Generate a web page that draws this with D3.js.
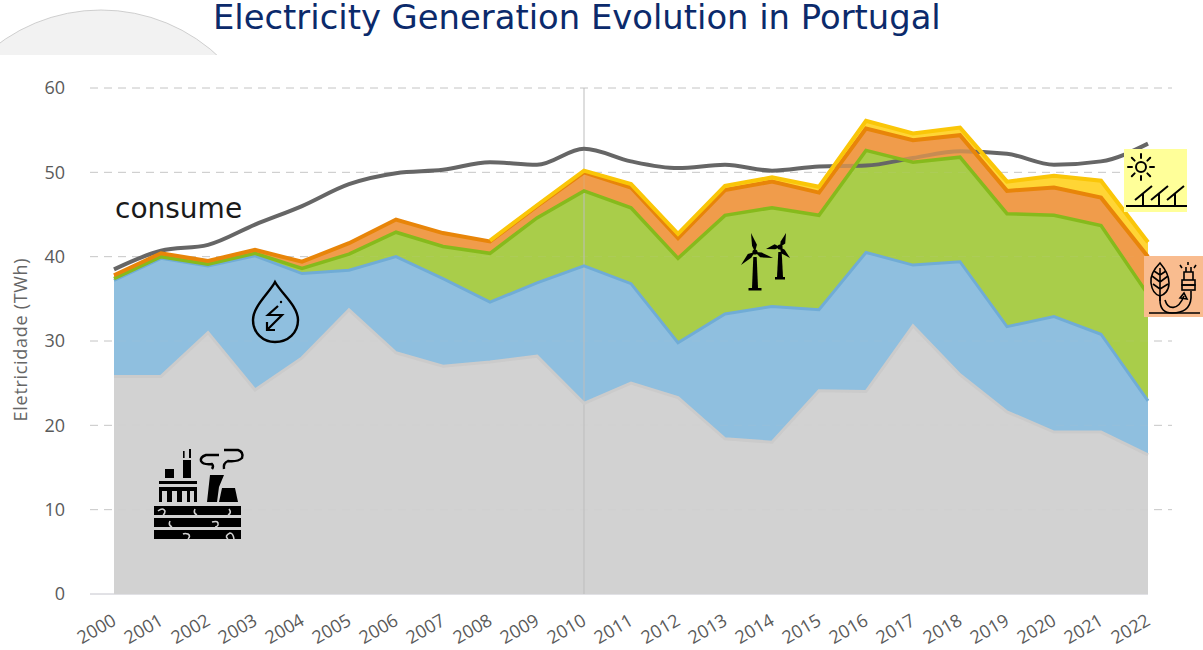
<!DOCTYPE html>
<html>
<head>
<style>
  html, body { margin: 0; padding: 0; background: #fff; }
  .tick text { font-family: "Open Sans", sans-serif; fill: #5a5a5a; }
</style>
<script src="https://d3js.org/d3.v7.min.js"></script>
</head>
<body>
<svg width="1203" height="650"></svg>
<script>
var years = [2000,2001,2002,2003,2004,2005,2006,2007,2008,2009,2010,2011,2012,2013,2014,2015,2016,2017,2018,2019,2020,2021,2022];
var yTicks = [0,10,20,30,40,50,60];

// TWh per source
var fossil = [25.8,25.8,31,24.2,28,33.7,28.6,27,27.5,28.2,22.6,25,23.3,18.4,18,24.1,24,31.8,26,21.6,19.2,19.2,16.5];
var hydro = [11.4,14,7.9,15.9,10,4.7,11.4,10.4,7.1,8.7,16.3,11.8,6.5,14.8,16.1,9.6,16.5,7.2,13.4,10.1,13.7,11.6,6.4];
var wind = [0.2,0.2,0.2,0.3,0.6,1.9,2.9,3.8,5.8,7.7,8.9,9,10,11.7,11.7,11.2,12.1,12.2,12.4,13.4,12,12.9,12.6];
var biomass = [0.4,0.4,0.4,0.4,0.8,1.3,1.5,1.6,1.4,1.4,2.2,2.4,2.4,3,3.1,2.7,2.6,2.6,2.6,2.7,3.3,3.3,4.5];
var solar = [0,0,0,0,0,0,0,0,0.1,0.1,0.2,0.4,0.5,0.5,0.5,0.7,0.9,0.8,0.9,1.1,1.4,2,1.7];
var consume = [38.5,40.7,41.4,43.8,46,48.6,49.9,50.3,51.2,50.9,52.8,51.3,50.5,50.9,50.2,50.7,50.8,51.7,52.5,52.2,50.9,51.3,53.4];

var keys = ["fossil","hydro","wind","biomass","solar"];
var fills = {fossil:"#d2d2d2", hydro:"#8fbfdf", wind:"#a9cd4a", biomass:"#f09c4c", solar:"#ffd535"};
var lines = {fossil:"#cbcbcb", hydro:"#70acd6", wind:"#86ba1c", biomass:"#e88509", solar:"#fac608"};
var widths = {fossil:3, hydro:3, wind:3.5, biomass:4, solar:4};

var svg = d3.select("svg");

var x = d3.scaleLinear().domain([2000,2022]).range([114,1148]);
var y = d3.scaleLinear().domain([0,60]).range([594,88]);

var table = years.map(function (yr, i) {
    return {year: yr, fossil: fossil[i], hydro: hydro[i], wind: wind[i], biomass: biomass[i], solar: solar[i]};
});
var stacked = d3.stack().keys(keys)(table);

// slide decoration behind the title
svg.append("clipPath").attr("id","topclip").append("rect")
    .attr("x",0).attr("y",0).attr("width",230).attr("height",55);
svg.append("circle")
    .attr("cx",101).attr("cy",182).attr("r",172)
    .attr("fill","#f2f2f2").attr("stroke","#c4c4c4").attr("stroke-width",0.8)
    .attr("clip-path","url(#topclip)");

svg.append("text")
    .attr("x",213).attr("y",29)
    .attr("font-family","'DejaVu Sans'").attr("font-size",33.8)
    .attr("fill","#0b2a6b")
    .text("Electricity Generation Evolution in Portugal");

// grid
function drawGrid(g, op) {
    g.selectAll("line").data(yTicks.filter(function (d) { return d > 0; })).enter().append("line")
        .attr("x1",90).attr("x2",1172)
        .attr("y1",function (d) { return y(d); })
        .attr("y2",function (d) { return y(d); })
        .attr("stroke","#c8c8c8").attr("stroke-dasharray","8,6")
        .attr("opacity",op);
}
drawGrid(svg.append("g"), 1);
svg.append("line").attr("x1",90).attr("x2",1148).attr("y1",y(0)).attr("y2",y(0)).attr("stroke","#c4c4cc");

var area = d3.area()
    .x(function (d) { return x(d.data.year); })
    .y0(function (d) { return y(d[0]); })
    .y1(function (d) { return y(d[1]); });
// no edge where a source has no generation yet (solar before 2008)
var topLine = d3.line()
    .defined(function (d) { return d[1] > d[0]; })
    .x(function (d) { return x(d.data.year); })
    .y(function (d) { return y(d[1]); });

svg.selectAll(".band").data(stacked).enter().append("path")
    .attr("class","band")
    .attr("d",area)
    .attr("fill",function (d) { return fills[d.key]; });

// grid shows faintly through the areas
drawGrid(svg.append("g"), 0.12);

svg.append("line").attr("x1",x(2010)).attr("x2",x(2010)).attr("y1",y(60)).attr("y2",y(0))
    .attr("stroke","#bdbdbd").attr("stroke-width",1);

var consumeLine = d3.line()
    .x(function (d, i) { return x(years[i]); })
    .y(function (d) { return y(d); })
    .curve(d3.curveMonotoneX);
svg.append("path").datum(consume)
    .attr("d",consumeLine)
    .attr("fill","none").attr("stroke","#666").attr("stroke-width",4);

// the consume line only shows faintly where it runs behind the stack top in 2016-2018
svg.append("path").datum(stacked[3])
    .attr("d",area)
    .attr("fill",fills.biomass).attr("opacity",0.7);

svg.selectAll(".edge").data(stacked).enter().append("path")
    .attr("class","edge")
    .attr("d",topLine)
    .attr("fill","none")
    .attr("stroke",function (d) { return lines[d.key]; })
    .attr("stroke-width",function (d) { return widths[d.key]; });

// axes
var yAxis = d3.axisLeft(y).tickValues(yTicks).tickSize(0).tickPadding(0);
var gy = svg.append("g").attr("transform","translate(65,0)").call(yAxis);
gy.select(".domain").remove();
gy.selectAll("text").attr("font-size",18);

var xAxis = d3.axisBottom(x).tickValues(years).tickFormat(d3.format("d")).tickSize(0);
var gx = svg.append("g").attr("transform","translate(0,620)").call(xAxis);
gx.select(".domain").remove();
gx.selectAll("text")
    .attr("font-size",18)
    .attr("text-anchor","end")
    .attr("dy",0)
    .attr("y",0)
    .attr("transform","translate(3,4) rotate(-30)");

svg.append("text")
    .attr("transform","translate(27,339.5) rotate(-90)")
    .attr("text-anchor","middle")
    .attr("font-family","'Open Sans', sans-serif").attr("font-size",18).attr("letter-spacing",0.7)
    .attr("fill","#666")
    .text("Eletricidade (TWh)");

svg.append("text")
    .attr("x",115).attr("y",218)
    .attr("font-family","'DejaVu Sans'").attr("font-size",28)
    .attr("fill","#1a1a1a")
    .text("consume");

// pictograms
var ink = "#000";

// hydro drop
var drop = svg.append("g").attr("fill","none").attr("stroke",ink).attr("stroke-width",2.4);
drop.append("path").attr("d","M275,282 C270,292 253,306 253,320 C253,333 263,342 275,342 C288,342 298,333 298,320 C298,306 281,293 275,282 Z");
drop.append("path").attr("stroke-width",2.2).attr("d","M278,306 L268,315 H282 L267,330 M267,322 V330 H275");
drop.append("circle").attr("cx",281).attr("cy",302).attr("r",1.2).attr("fill",ink).attr("stroke","none");

// fossil plant
var plant = svg.append("g").attr("fill",ink);
[[506,515],[518,527],[530,539]].forEach(function (b) {
    plant.append("rect").attr("x",154).attr("y",b[0]).attr("width",87).attr("height",b[1]-b[0]);
});
plant.append("path").attr("fill","none").attr("stroke","#d2d2d2").attr("stroke-width",1.6)
    .attr("d","M158,511 q5,-4 7,0 q0,3 -2,4 M197,515 q-4,-2 -2,-6 M228,515 q4,-2 1,-6 M172,527 q-4,-2 -2,-6 M212,522 q7,-2 6,3 q-1,2 -3,2 M188,539 q3,-3 0,-5 q-3,-1 -5,0 M228,539 q-4,-3 2,-6 q3,0 4,6");
plant.append("rect").attr("x",165).attr("y",469).attr("width",9).attr("height",9);
plant.append("rect").attr("x",183).attr("y",460).attr("width",8).attr("height",18);
plant.append("rect").attr("x",183).attr("y",451).attr("width",1.6).attr("height",7);
plant.append("rect").attr("x",189).attr("y",449).attr("width",2).attr("height",9);
plant.append("rect").attr("x",159).attr("y",481).attr("width",38).attr("height",3);
plant.append("path").attr("fill-rule","evenodd")
    .attr("d","M159,487 H197 V502 H159 Z M162,491 V502 H167 V491 Z M172,491 V502 H177 V491 Z M182,491 V502 H187 V491 Z M190,491 V502 H194 V491 Z");
plant.append("path").attr("d","M207,502 L210,475 H224 L219,487 L217,502 Z");
plant.append("path").attr("d","M219,502 L222,488 H235 L238,502 Z");
plant.append("path").attr("fill","none").attr("stroke",ink).attr("stroke-width",2.4)
    .attr("d","M219,455 H206 Q200,457 201,461 Q203,465 212,464 Q214,466 212,469 M224,450 H238 Q244,452 242,458 Q238,462 228,461 Q223,463 224,469");

// wind turbines
function turbine(hx, hy, tips, foot, bw) {
    var g = svg.append("g").attr("fill",ink);
    tips.forEach(function (t) {
        var dx = t[0]-hx, dy = t[1]-hy, len = Math.sqrt(dx*dx+dy*dy);
        var nx = -dy/len, ny = dx/len;
        var mx = hx+dx*0.35, my = hy+dy*0.35;
        g.append("path").attr("d","M"+hx+","+hy+" L"+(mx+nx*3.4)+","+(my+ny*3.4)+" L"+t[0]+","+t[1]+" L"+(mx-nx*1.6)+","+(my-ny*1.6)+" Z");
    });
    g.append("circle").attr("cx",hx).attr("cy",hy).attr("r",2.6);
    g.append("path").attr("d","M"+(hx-1.7)+","+(hy+5)+" H"+(hx+1.7)+" L"+(hx+3)+","+(foot-2)+" H"+(hx-3)+" Z");
    g.append("rect").attr("x",hx-bw/2).attr("y",foot-2).attr("width",bw).attr("height",2.5);
}
turbine(755,252,[[751,233],[773,258],[741,265]],290,13);
turbine(780,247,[[786,233],[766,249],[790,258]],279,10);

// solar badge
svg.append("rect").attr("x",1124).attr("y",149).attr("width",63).attr("height",63).attr("fill","#ffff99");
var sun = svg.append("g").attr("stroke",ink).attr("fill","none").attr("stroke-width",2);
sun.append("circle").attr("cx",1141).attr("cy",167).attr("r",5);
d3.range(8).forEach(function (i) {
    var a = i*Math.PI/4;
    sun.append("line").attr("stroke-linecap","round")
        .attr("x1",1141+Math.cos(a)*9).attr("y1",167+Math.sin(a)*9)
        .attr("x2",1141+Math.cos(a)*13).attr("y2",167+Math.sin(a)*13);
});
[0,16,32].forEach(function (dx) {
    sun.append("path").attr("d","M"+(1135+dx)+",200 L"+(1152+dx)+",186 M"+(1143+dx)+",194 V206");
});
sun.append("line").attr("x1",1126).attr("x2",1187).attr("y1",206).attr("y2",206);

// biomass badge
svg.append("rect").attr("x",1144).attr("y",256).attr("width",59).attr("height",61).attr("fill","#f9bc8f");
var bio = svg.append("g").attr("stroke",ink).attr("fill","none").attr("stroke-width",1.6);
bio.append("path").attr("d","M1160,263 C1153,270 1150,276 1151,283 C1152,291 1156,295 1160,296 C1164,295 1169,291 1169,283 C1169,276 1166,270 1160,263 Z");
bio.append("path").attr("d","M1160,268 V301 M1160,275 L1154,271 M1160,275 L1166,271 M1160,282 L1152,276 M1160,282 L1168,276 M1160,289 L1153,284 M1160,289 L1168,284");
bio.append("path").attr("d","M1160,296 V300 C1160,310 1166,313 1172,313 C1180,313 1190,311 1191,298 V291");
bio.append("path").attr("d","M1165,300 C1168,310 1178,311 1184,296 M1180,298 L1184,293 L1187,299 Z");
bio.append("rect").attr("x",1182).attr("y",280).attr("width",13).attr("height",5);
bio.append("rect").attr("x",1182).attr("y",285).attr("width",13).attr("height",5);
bio.append("path").attr("d","M1184,280 V272 H1193 V280 M1186,272 V267 M1191,272 V267");
bio.append("path").attr("d","M1180,265 L1182,268 M1188,262 V265 M1196,265 L1194,268");
bio.append("line").attr("x1",1149).attr("x2",1200).attr("y1",313).attr("y2",313);
</script>
</body>
</html>
